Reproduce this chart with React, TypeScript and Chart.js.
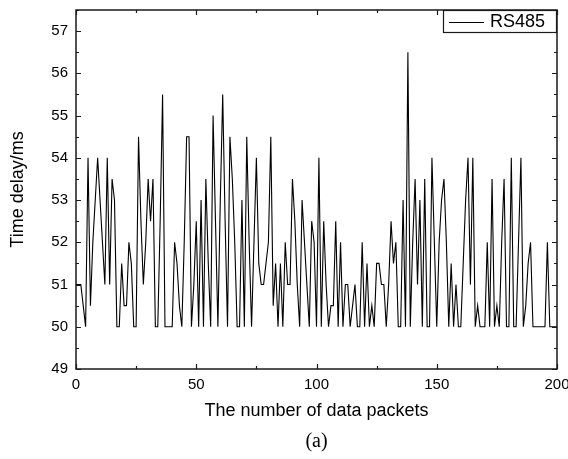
import React, { useEffect, useRef } from 'react';
import { Chart, registerables } from 'chart.js';

Chart.register(...registerables);

const seriesLabel = 'RS485';
const xTitle = 'The number of data packets';
const yTitle = 'Time delay/ms';
const caption = '(a)';

// Time delay (ms) for packets 0..200
const delays: number[] = [
  51, 51, 51, 50.5, 50, 54, 50.5, 52, 53, 54,
  53, 52, 51, 54, 51, 53.5, 53, 50, 50, 51.5,
  50.5, 50.5, 52, 51.5, 50, 50, 54.5, 52.5, 51, 52,
  53.5, 52.5, 53.5, 50, 50, 52.5, 55.5, 50, 50, 50,
  50, 52, 51.5, 50.5, 50, 52, 54.5, 54.5, 50, 51,
  52.5, 50, 53, 50, 53.5, 51.5, 50, 55, 52.5, 50,
  53, 55.5, 52.5, 50, 54.5, 53.5, 52, 50, 50, 53,
  50, 54.5, 52, 50, 52, 54, 51.5, 51, 51, 51.5,
  52, 54.5, 50.5, 51.5, 50, 51.5, 50, 52, 51, 51,
  53.5, 52.5, 51, 50, 53, 52, 51, 50, 52.5, 52,
  50, 54, 50, 52.5, 51, 50, 50.5, 50.5, 52.5, 50,
  52, 50, 51, 51, 50, 50.5, 51, 50, 50, 52,
  50, 51.5, 50, 50.5, 50, 51.5, 51.5, 51, 51, 50,
  51, 52.5, 51.5, 52, 50, 50, 53, 50, 56.5, 50,
  52, 53.5, 51, 53, 50, 53.5, 50, 50, 54, 52,
  50, 52, 53, 53.5, 52, 50, 51.5, 50, 51, 50,
  50, 51.5, 53, 54, 51, 54, 50, 50.5, 50, 50,
  50, 52, 50, 53.5, 50, 50.5, 50, 52, 53.5, 50,
  50, 54, 50, 50, 52, 54, 50, 50.5, 51.5, 52,
  50, 50, 50, 50, 50, 50, 52, 50, 50, 50,
  50,
];

const xMin = 0;
const xMax = 200;
const xMajorStep = 50;
const xMinorStep = 25;
const yMin = 49;
const yMax = 57.5;
const yMajorStep = 1;
const yMinorStep = 0.5;

const FONT = 'Arial, "Liberation Sans", Helvetica, sans-serif';
const INK = '#1a1a1a';

const decorPlugin = {
  id: 'decor',
  afterDraw(chart: any) {
    const { ctx, chartArea } = chart;
    const { left, right, top, bottom } = chartArea;
    const xs = chart.scales.x;
    const ys = chart.scales.y;
    ctx.save();
    // frame
    ctx.strokeStyle = INK;
    ctx.lineWidth = 1.5;
    ctx.strokeRect(left, top, right - left, bottom - top);
    // inward ticks
    ctx.lineWidth = 1.2;
    ctx.beginPath();
    for (let v = xMin; v <= xMax + 1e-6; v += xMinorStep) {
      const px = Math.round(xs.getPixelForValue(v)) + 0.5;
      const len = Math.abs(v % xMajorStep) < 1e-6 ? 5 : 3;
      ctx.moveTo(px, bottom);
      ctx.lineTo(px, bottom - len);
      ctx.moveTo(px, top);
      ctx.lineTo(px, top + len);
    }
    for (let v = yMin; v <= yMax + 1e-6; v += yMinorStep) {
      const py = Math.round(ys.getPixelForValue(v)) + 0.5;
      const len = Math.abs(v % yMajorStep) < 1e-6 ? 5 : 3;
      ctx.moveTo(left, py);
      ctx.lineTo(left + len, py);
      ctx.moveTo(right, py);
      ctx.lineTo(right - len, py);
    }
    ctx.stroke();

    // legend box
    const lgL = 443;
    const lgT = top;
    const lgR = right;
    const lgB = top + 23;
    ctx.fillStyle = '#ffffff';
    ctx.fillRect(lgL, lgT, lgR - lgL, lgB - lgT);
    ctx.lineWidth = 1.2;
    ctx.strokeStyle = INK;
    ctx.strokeRect(lgL + 0.5, lgT + 0.5, lgR - lgL - 1, lgB - lgT - 1);
    ctx.beginPath();
    ctx.lineWidth = 1.1;
    ctx.strokeStyle = '#000';
    ctx.moveTo(449, lgT + 12.5);
    ctx.lineTo(484, lgT + 12.5);
    ctx.stroke();
    ctx.fillStyle = '#000';
    ctx.font = `18px ${FONT}`;
    ctx.textAlign = 'left';
    ctx.textBaseline = 'middle';
    ctx.fillText(seriesLabel, 490, lgT + 12.5);

    // axis titles
    ctx.font = `18px ${FONT}`;
    ctx.textAlign = 'center';
    ctx.textBaseline = 'middle';
    ctx.fillText(xTitle, (left + right) / 2, 411);
    ctx.save();
    ctx.translate(18, (top + bottom) / 2);
    ctx.rotate(-Math.PI / 2);
    ctx.fillText(yTitle, 0, 0);
    ctx.restore();

    // caption
    ctx.font = `20px "Liberation Serif", "Times New Roman", serif`;
    ctx.fillText(caption, (left + right) / 2, 442);
    ctx.restore();
  },
};

export default function App() {
  const canvasRef = useRef<HTMLCanvasElement | null>(null);

  useEffect(() => {
    const canvas = canvasRef.current;
    if (!canvas) return;
    const points = delays.map((v, i) => ({ x: i, y: v }));
    const chart = new Chart(canvas, {
      type: 'line',
      data: {
        datasets: [
          {
            label: seriesLabel,
            data: points,
            borderColor: '#000000',
            borderWidth: 1.1,
            pointRadius: 0,
            tension: 0,
            fill: false,
          },
        ],
      },
      options: {
        responsive: false,
        animation: false,
        events: [],
        layout: { padding: { top: 10, right: 11, left: 0, bottom: 0 } },
        plugins: {
          legend: { display: false },
          tooltip: { enabled: false },
          title: { display: false },
        },
        scales: {
          x: {
            type: 'linear',
            min: xMin,
            max: xMax,
            grid: { display: false, drawTicks: false },
            border: { display: false },
            ticks: {
              stepSize: xMajorStep,
              padding: 7,
              color: '#000',
              font: { family: FONT, size: 15 },
              maxRotation: 0,
            },
            afterFit: (scale: any) => {
              scale.height = 90;
              scale.paddingLeft = 0;
              scale.paddingRight = 0;
            },
          },
          y: {
            type: 'linear',
            min: yMin,
            max: yMax,
            grid: { display: false, drawTicks: false },
            border: { display: false },
            ticks: {
              stepSize: yMajorStep,
              includeBounds: false,
              padding: 8,
              color: '#000',
              font: { family: FONT, size: 15 },
            },
            afterFit: (scale: any) => {
              scale.width = 76;
              scale.paddingTop = 0;
              scale.paddingBottom = 0;
            },
          },
        },
      },
      plugins: [decorPlugin],
    });
    return () => chart.destroy();
  }, []);

  return (
    <div style={{ position: 'fixed', left: 0, top: 0, width: 568, height: 459, background: '#fff' }}>
      <canvas ref={canvasRef} width={568} height={459} style={{ display: 'block' }} />
    </div>
  );
}
